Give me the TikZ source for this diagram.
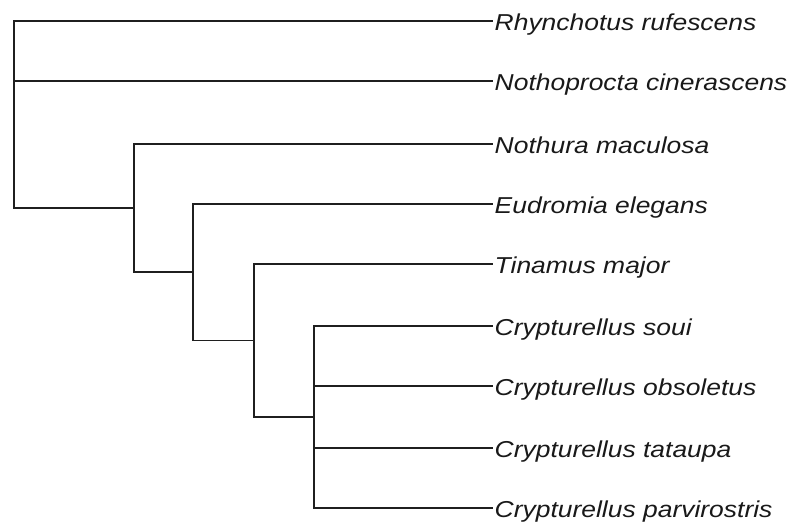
\documentclass[tikz,border=0pt]{standalone}
\usepackage{fontspec}
\newfontfamily\taxonfont[FakeStretch=1.15]{Liberation Sans}
\usetikzlibrary{positioning,calc}

\begin{document}
\begin{tikzpicture}[x=1pt, y=-1pt,
    branch/.style={line width=1.5pt, black!88},
    taxon/.style={font=\taxonfont\itshape\fontsize{23}{27}\selectfont, text=black!90, anchor=base west, inner sep=0pt}]
    \useasboundingbox (0,0) rectangle (795,529);

    % Tips and species names
    \foreach \name/\y/\species in {
        rr/21/Rhynchotus rufescens,
        nc/81/Nothoprocta cinerascens,
        nm/144/Nothura maculosa,
        ee/204/Eudromia elegans,
        tm/264/Tinamus major,
        cs/326/Crypturellus soui,
        co/386/Crypturellus obsoletus,
        ct/448/Crypturellus tataupa,
        cp/508/Crypturellus parvirostris%
    } {
        \coordinate (\name) at (493, \y);
        \node[taxon] (\name-label) at ([xshift=1.5pt, yshift=-9.5pt]\name) {\species};
    }

    % Internal nodes
    \coordinate (n1) at (14, 114);
    \coordinate (n2) at (134, 208);
    \coordinate (n3) at (193, 272);
    \coordinate (n4) at (254, 340.5);
    \coordinate (n5) at (314, 417);

    % Branches
    \foreach \parent/\child in {
        n1/rr, n1/nc, n1/n2,
        n2/nm, n2/n3,
        n3/ee, n3/n4,
        n4/tm, n4/n5,
        n5/cs, n5/co, n5/ct, n5/cp%
    } {
        \draw[branch] (\parent) |- (\child);
    }
\end{tikzpicture}
\end{document}
